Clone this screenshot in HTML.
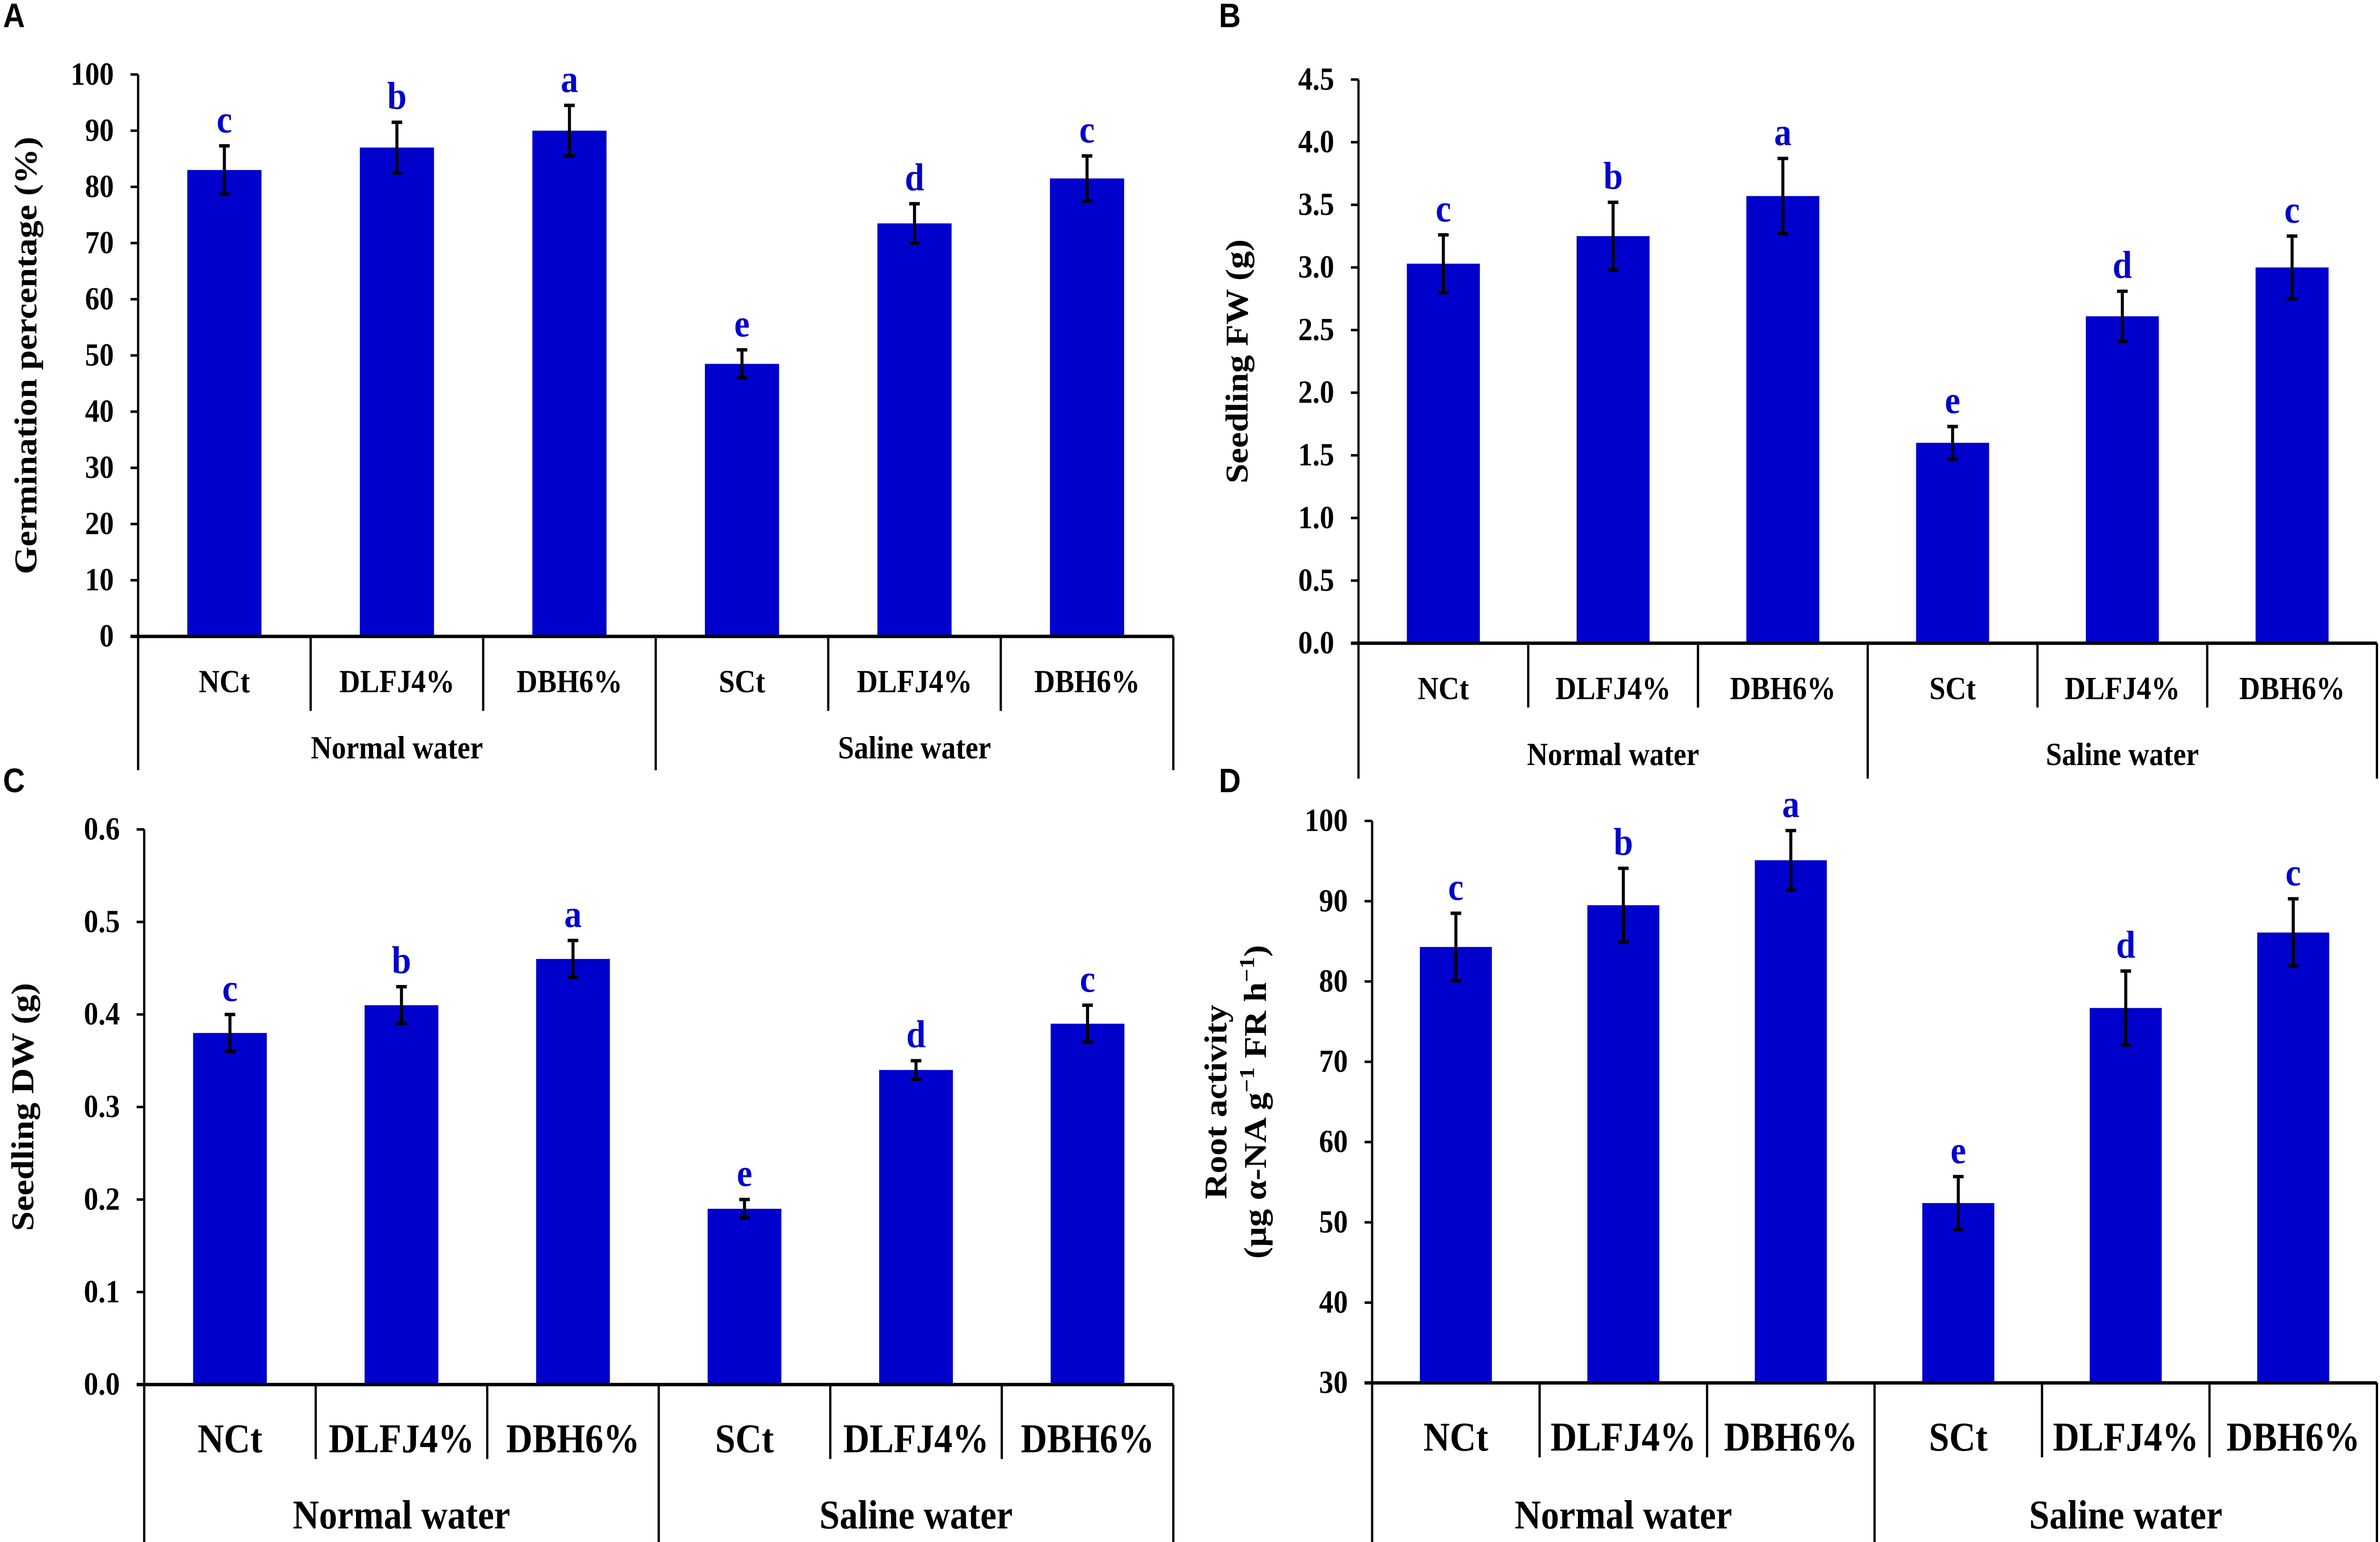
<!DOCTYPE html>
<html><head><meta charset="utf-8"><style>
html,body{margin:0;padding:0;background:#fff;width:100%;height:100%;overflow:hidden;}
svg{display:block;width:100vw;height:100vh;}
text{font-family:"Liberation Serif",serif;font-weight:bold;}
</style></head><body>
<svg id="fig" viewBox="0 0 1568 911" preserveAspectRatio="none" xmlns="http://www.w3.org/2000/svg"></svg>
<script>
const categories = ["NCt","DLFJ4%","DBH6%","SCt","DLFJ4%","DBH6%"];
const groups = ["Normal water","Saline water"];
const sigLetters = ["c","b","a","e","d","c"];
const valuesA = [83,87,90,48.5,73.5,81.5];
const errorsA = [4.3,4.5,4.5,2.5,3.5,4.0];
const ticksA = [0,10,20,30,40,50,60,70,80,90,100];
const valuesB = [3.03,3.25,3.57,1.60,2.61,3.00];
const errorsB = [0.23,0.27,0.30,0.13,0.20,0.25];
const ticksB = [0,0.5,1,1.5,2,2.5,3,3.5,4,4.5];
const valuesC = [0.38,0.41,0.46,0.19,0.34,0.39];
const errorsC = [0.02,0.02,0.02,0.01,0.01,0.02];
const ticksC = [0,0.1,0.2,0.3,0.4,0.5,0.6];
const valuesD = [84.3,89.5,95.1,52.4,76.7,86.1];
const errorsD = [4.2,4.6,3.7,3.3,4.6,4.2];
const ticksD = [30,40,50,60,70,80,90,100];

const NS="http://www.w3.org/2000/svg";
const svg=document.getElementById('fig');
function mk(tag,attrs,parent){const e=document.createElementNS(NS,tag);for(const k in attrs)e.setAttribute(k,attrs[k]);(parent||svg).appendChild(e);return e;}

function panel(cfg){
  const g=mk('g',{});
  
  
  const ymin=cfg.ticks[0], ymax=cfg.ticks[cfg.ticks.length-1];
  const y=v=>cfg.y0-(v-ymin)/(ymax-ymin)*(cfg.y0-cfg.y1);
  const step=(cfg.x1-cfg.x0)/categories.length;
  const cx=i=>cfg.x0+step*(i+0.5);
  const pl=mk('text',{x:cfg.lx,y:cfg.ly,'font-size':20,style:'font-family:"Liberation Sans",sans-serif;font-weight:bold'},g);
  pl.textContent=cfg.id;
  
  
  const ya=mk('line',{x1:cfg.x0,y1:cfg.y1,x2:cfg.x0,y2:cfg.y0,stroke:'#000','stroke-width':1.5},g);
  
  
  cfg.ticks.forEach(t=>{
    mk('line',{x1:cfg.x0-5,x2:cfg.x0,y1:y(t),y2:y(t),stroke:'#000','stroke-width':1.5},g);
    const tl=mk('text',{x:cfg.x0-16,y:y(t)+6,'font-size':cfg.tfs,'text-anchor':'end'},g);
    tl.textContent=cfg.fmt(t);
    
    
  });
  const yt=mk('text',{transform:`translate(${cfg.tx},${(cfg.y0+cfg.y1)/2}) rotate(-90)`,'font-size':cfg.titleFs,'text-anchor':'middle'},g);
  
  
  if(cfg.title2){
    const s1=mk('tspan',{x:0,dy:-14},yt);s1.textContent=cfg.title;
    const s2=mk('tspan',{x:0,dy:26},yt);s2.innerHTML=cfg.title2;
  } else yt.textContent=cfg.title;
  const bw=step*0.43;
  cfg.vals.forEach((v,i)=>{
    const b=mk('rect',{x:cx(i)-bw/2,y:y(v),width:bw,height:cfg.y0-y(v),fill:'#0000CC'},g);
    
    
    const e=cfg.errs[i];
    const eb=mk('path',{d:`M${cx(i)},${y(v+e)}V${y(v-e)}M${cx(i)-3.5},${y(v+e)}H${cx(i)+3.5}M${cx(i)-3.5},${y(v-e)}H${cx(i)+3.5}`,stroke:'#000','stroke-width':2,fill:'none'},g);
    
    
    const lt=mk('text',{x:cx(i),y:y(v+e)-8,'font-size':cfg.sfs,'text-anchor':'middle',fill:'#0000CC'},g);
    lt.textContent=sigLetters[i];
    
    
  });
  const xa=mk('line',{x1:cfg.x0-5,x2:cfg.x1,y1:cfg.y0,y2:cfg.y0,stroke:'#000','stroke-width':2},g);
  
  
  for(let i=0;i<=6;i++){
    const xx=cfg.x0+step*i;
    const long=(i%3===0);
    mk('line',{x1:xx,x2:xx,y1:cfg.y0,y2:long?cfg.longEnd:cfg.y0+cfg.shortLen,stroke:'#000','stroke-width':1.5},g);
  }
  categories.forEach((c,i)=>{
    const t=mk('text',{x:cx(i),y:cfg.catY,'font-size':cfg.cfs,'text-anchor':'middle'},g);
    t.textContent=c;
    
    
  });
  groups.forEach((gname,j)=>{
    const t=mk('text',{x:cfg.x0+step*(3*j+1.5),y:cfg.grpY,'font-size':cfg.cfs,'text-anchor':'middle'},g);
    t.textContent=gname;
    
    
  });
}
panel({id:'A',lx:2,ly:16,x0:91,x1:773,y0:376,y1:44,ticks:ticksA,vals:valuesA,errs:errorsA,fmt:t=>String(t),
  tfs:19,title:'Germination percentage (%)',tx:24,titleFs:21,sfs:23,cfs:19,catY:409,grpY:448,shortLen:44,longEnd:455});
panel({id:'B',lx:803,ly:16,x0:895,x1:1566,y0:380,y1:47,ticks:ticksB,vals:valuesB,errs:errorsB,fmt:t=>t.toFixed(1),
  tfs:19,title:'Seedling FW (g)',tx:822,titleFs:21,sfs:23,cfs:19,catY:413,grpY:452,shortLen:38,longEnd:460});
panel({id:'C',lx:2,ly:468,x0:95,x1:773,y0:818,y1:490,ticks:ticksC,vals:valuesC,errs:errorsC,fmt:t=>t.toFixed(1),
  tfs:19,title:'Seedling DW (g)',tx:22,titleFs:21,sfs:23,cfs:24,catY:858,grpY:903,shortLen:44,longEnd:911});
panel({id:'D',lx:803,ly:468,x0:904,x1:1566,y0:817,y1:485,ticks:ticksD,vals:valuesD,errs:errorsD,fmt:t=>String(t),
  tfs:19,title:'Root activity',title2:'(μg α-NA g<tspan dy="-8" font-size="14">−1</tspan><tspan dy="8"> FR h</tspan><tspan dy="-8" font-size="14">−1</tspan><tspan dy="8">)</tspan>',tx:822,titleFs:21,sfs:23,cfs:24,catY:857,grpY:903,shortLen:44,longEnd:911});
</script>
</body></html>
